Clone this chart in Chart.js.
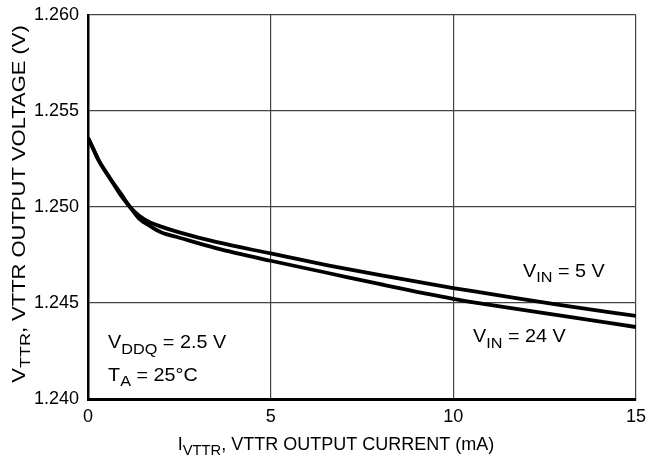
<!DOCTYPE html>
<html>
<head>
<meta charset="utf-8">
<script src="https://cdn.jsdelivr.net/npm/chart.js@4.4.1/dist/chart.umd.min.js"></script>
<style>
  html, body { margin: 0; padding: 0; background: #fff; }
  #wrap { width: 651px; height: 463px; position: relative; }
</style>
</head>
<body>
<div id="wrap"><canvas id="c"></canvas></div>
<script>
// values
const currentMA = [0, 0.15, 0.3, 0.6, 0.9, 1.15, 1.4, 1.7, 2.0, 2.5, 3.5, 5, 6.6, 8, 10, 11, 12.9, 15];
const vttrVin5 = [1.2536, 1.2530, 1.2524, 1.2515, 1.2507, 1.2500, 1.24955, 1.2492, 1.24898, 1.24868, 1.24818, 1.24758, 1.24695, 1.24645, 1.24578, 1.24548, 1.24490, 1.24433];
const vttrVin24 = [1.2536, 1.2530, 1.2524, 1.2515, 1.2506, 1.2500, 1.2494, 1.2490, 1.24868, 1.24840, 1.24786, 1.24720, 1.24655, 1.24598, 1.24522, 1.24490, 1.24435, 1.24375];
const xTicks = [0, 5, 10, 15];
const yTicks = [1.240, 1.245, 1.250, 1.255, 1.260];

const FONT = '"Liberation Sans", Arial, sans-serif';
const SUB = 0.82;

function pts(xs, ys){ return xs.map((x, i) => ({ x: x, y: ys[i] })); }

// text with subscripts; parts = [[text, isSub], ...]
function richWidth(ctx, parts, size){
  let w = 0;
  parts.forEach(p => {
    ctx.font = (p[1] ? size * SUB : size) + 'px ' + FONT;
    w += ctx.measureText(p[0]).width;
  });
  return w;
}
function drawRich(ctx, parts, x, y, size){
  let cx = x;
  parts.forEach(p => {
    const s = p[1] ? size * SUB : size;
    ctx.font = s + 'px ' + FONT;
    ctx.fillText(p[0], cx, p[1] ? y + size * 0.3 : y);
    cx += ctx.measureText(p[0]).width;
  });
}

// annotation text, anchored in data units
const notes = [
  { parts: [['V', 0], ['IN', 1], [' = 5 V', 0]], x: 11.91, y: 1.24635 },
  { parts: [['V', 0], ['IN', 1], [' = 24 V', 0]], x: 10.54, y: 1.24295 },
  { parts: [['V', 0], ['DDQ', 1], [' = 2.5 V', 0]], x: 0.55, y: 1.24265 },
  { parts: [['T', 0], ['A', 1], [' = 25\u00B0C', 0]], x: 0.55, y: 1.24095 }
];

const labelsPlugin = {
  id: 'labels',
  afterDraw(chart){
    const ctx = chart.ctx;
    const xs = chart.scales.x, ys = chart.scales.y;
    ctx.save();
    ctx.fillStyle = '#000';
    ctx.textBaseline = 'alphabetic';
    ctx.textAlign = 'left';
    notes.forEach(n => {
      ctx.save();
      ctx.translate(xs.getPixelForValue(n.x), ys.getPixelForValue(n.y));
      ctx.scale(1.1, 1);
      drawRich(ctx, n.parts, 0, 0, 18);
      ctx.restore();
    });
    // x axis title
    const xt = [['I', 0], ['VTTR', 1], [', VTTR OUTPUT CURRENT (mA)', 0]];
    const xw = richWidth(ctx, xt, 18);
    drawRich(ctx, xt, 336 - xw / 2, 450, 18);
    // y axis title (rotated, a bit stretched like the original)
    const yt = [['V', 0], ['TTR', 1], [', VTTR OUTPUT VOLTAGE (V)', 0]];
    const yw = richWidth(ctx, yt, 18);
    ctx.translate(25, 204);
    ctx.rotate(-Math.PI / 2);
    ctx.scale(1.22, 1);
    drawRich(ctx, yt, -yw / 2, 0, 18);
    ctx.restore();
  }
};

new Chart(document.getElementById('c'), {
  type: 'line',
  data: {
    datasets: [
      { label: 'VIN = 5 V', data: pts(currentMA, vttrVin5) },
      { label: 'VIN = 24 V', data: pts(currentMA, vttrVin24) }
    ]
  },
  options: {
    responsive: true,
    maintainAspectRatio: false,
    animation: false,
    events: [],
    layout: { padding: { top: 15, right: 15, left: 0, bottom: 0 } },
    elements: {
      line: { borderColor: '#000', borderWidth: 3.8, cubicInterpolationMode: 'monotone', fill: false },
      point: { radius: 0 }
    },
    plugins: { legend: { display: false }, tooltip: { enabled: false } },
    scales: {
      x: {
        type: 'linear',
        min: 0, max: 15,
        afterBuildTicks(s){ s.ticks = xTicks.map(v => ({ value: v })); },
        afterFit(s){ s.height = 64; s.paddingLeft = 0; s.paddingRight = 0; },
        grid: { color: '#444', lineWidth: 1.2, drawTicks: false },
        border: { color: '#000', width: 3 },
        ticks: { color: '#000', padding: 7, font: { family: FONT, size: 18 }, callback: v => String(v) }
      },
      y: {
        type: 'linear',
        min: 1.240, max: 1.260,
        afterBuildTicks(s){ s.ticks = yTicks.map(v => ({ value: v })); },
        afterFit(s){ s.width = 88; s.paddingTop = 0; s.paddingBottom = 0; },
        grid: { color: '#444', lineWidth: 1.2, drawTicks: false },
        border: { color: '#000', width: 2.5 },
        ticks: { color: '#000', padding: 9, font: { family: FONT, size: 18 }, callback: v => Number(v).toFixed(3) }
      }
    }
  },
  plugins: [labelsPlugin]
});
</script>
</body>
</html>
